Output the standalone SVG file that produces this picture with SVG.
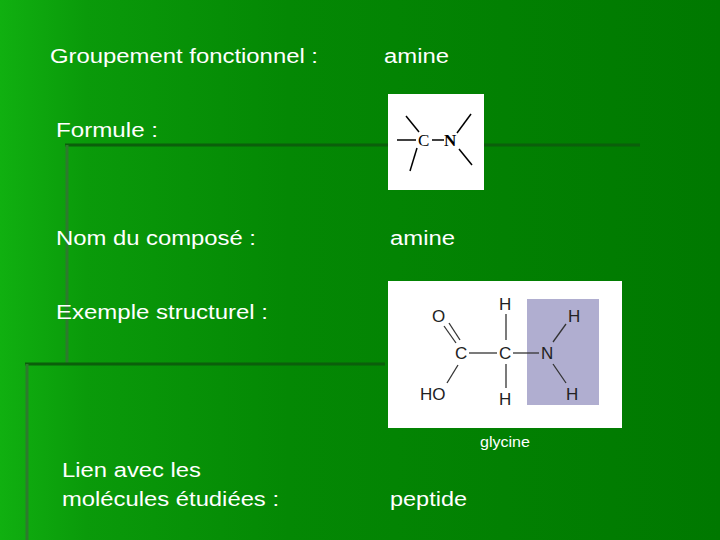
<svg xmlns="http://www.w3.org/2000/svg" width="720" height="540" viewBox="0 0 720 540">
<defs>
<linearGradient id="bg" x1="0" y1="0" x2="1" y2="0">
<stop offset="0" stop-color="#10b010"/><stop offset="0.12" stop-color="#0a9a0a"/><stop offset="0.4" stop-color="#048804"/><stop offset="1" stop-color="#007800"/>
</linearGradient>
<style>
.t{font-family:"Liberation Sans",Arial,sans-serif;font-size:20px;fill:#fff}
.a{font-family:"Liberation Sans",Arial,sans-serif;font-size:17px;fill:#222}
.b{stroke:#333;stroke-width:1.3}
.k{stroke:#000;stroke-width:1.5}
</style>
</defs>
<rect width="720" height="540" fill="url(#bg)"/>
<g id="deco" fill="none">
<line x1="65" y1="145" x2="640" y2="145" stroke="#0b5f0b" stroke-width="3"/>
<line x1="67" y1="145" x2="67" y2="365" stroke="#2d7a2d" stroke-width="3"/>
<line x1="25" y1="364" x2="385" y2="364" stroke="#0b5f0b" stroke-width="3"/>
<line x1="27" y1="364" x2="27" y2="540" stroke="#2d7a2d" stroke-width="3"/>
</g>
<g id="labels">
<text class="t" x="50" y="63" textLength="268" lengthAdjust="spacingAndGlyphs">Groupement fonctionnel :</text>
<text class="t" x="384" y="63" textLength="65" lengthAdjust="spacingAndGlyphs">amine</text>
<text class="t" x="56" y="137" textLength="102" lengthAdjust="spacingAndGlyphs">Formule :</text>
<text class="t" x="56" y="245" textLength="200" lengthAdjust="spacingAndGlyphs">Nom du composé :</text>
<text class="t" x="390" y="245" textLength="65" lengthAdjust="spacingAndGlyphs">amine</text>
<text class="t" x="56" y="319" textLength="212" lengthAdjust="spacingAndGlyphs">Exemple structurel :</text>
<text x="480" y="447" textLength="50" lengthAdjust="spacingAndGlyphs" style="font-family:'Liberation Sans',Arial,sans-serif;font-size:14px;fill:#fff">glycine</text>
<text class="t" x="62" y="477" textLength="139" lengthAdjust="spacingAndGlyphs">Lien avec les</text>
<text class="t" x="62" y="506" textLength="217" lengthAdjust="spacingAndGlyphs">molécules étudiées :</text>
<text class="t" x="390" y="506" textLength="77" lengthAdjust="spacingAndGlyphs">peptide</text>
</g>
<g id="formule">
<rect x="388" y="94" width="96" height="96" fill="#fff"/>
<line class="k" x1="397" y1="140" x2="416" y2="140"/>
<line class="k" x1="432" y1="140" x2="444" y2="140"/>
<line class="k" x1="406" y1="116" x2="419" y2="132"/>
<line class="k" x1="417" y1="148" x2="410" y2="171"/>
<line class="k" x1="457" y1="133" x2="471" y2="114"/>
<line class="k" x1="459" y1="149" x2="472" y2="165"/>
<text x="418" y="146" style="font-family:'Liberation Serif',serif;font-size:17px;fill:#000">C</text>
<text x="444" y="146" style="font-family:'Liberation Serif',serif;font-size:17px;font-weight:bold;fill:#000">N</text>
</g>
<g id="glycine">
<rect x="388" y="281" width="234" height="147" fill="#fff"/>
<rect x="527" y="299" width="72" height="106" fill="#b0aed0"/>
<text class="a" x="432" y="322">O</text>
<text class="a" x="455" y="359">C</text>
<text class="a" x="499" y="359">C</text>
<text class="a" x="541" y="359">N</text>
<text class="a" x="499" y="310">H</text>
<text class="a" x="568" y="322">H</text>
<text class="a" x="499" y="405">H</text>
<text class="a" x="566" y="400">H</text>
<text class="a" x="420" y="400">HO</text>
<line class="b" x1="444" y1="326" x2="456" y2="343"/>
<line class="b" x1="449" y1="323" x2="460" y2="340"/>
<line class="b" x1="469" y1="353" x2="497" y2="353"/>
<line class="b" x1="513" y1="353" x2="539" y2="353"/>
<line class="b" x1="506" y1="314" x2="506" y2="340"/>
<line class="b" x1="506" y1="364" x2="506" y2="388"/>
<line class="b" x1="553" y1="342" x2="566" y2="324"/>
<line class="b" x1="553" y1="364" x2="566" y2="383"/>
<line class="b" x1="458" y1="365" x2="447" y2="383"/>
</g>
</svg>
